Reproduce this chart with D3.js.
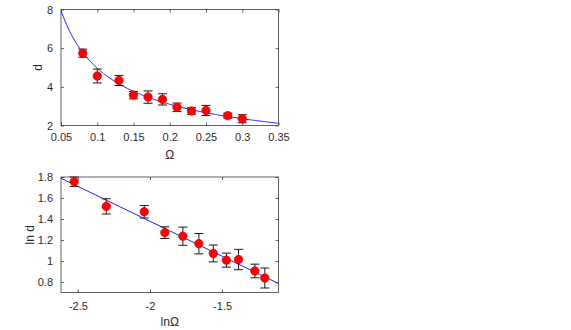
<!DOCTYPE html>
<html><head><meta charset="utf-8">
<script src="https://cdn.jsdelivr.net/npm/d3@7"></script>
<style>
html,body{margin:0;padding:0;background:#fff;}
svg{display:block;font-family:"Liberation Sans",Arial,Helvetica,sans-serif;}
</style></head>
<body>
<svg id="c" width="571" height="330"></svg>
<script>
// ---- data ----
const omega   = [0.08, 0.10, 0.13, 0.15, 0.17, 0.19, 0.21, 0.23, 0.25, 0.28, 0.30];
const dVals   = [5.74, 4.56, 4.33, 3.57, 3.47, 3.35, 2.94, 2.75, 2.78, 2.51, 2.35];
const dErr    = [0.21, 0.36, 0.26, 0.19, 0.32, 0.29, 0.22, 0.17, 0.26, 0.13, 0.21];

const lnOmega = [-2.526, -2.303, -2.040, -1.897, -1.772, -1.661, -1.561, -1.470, -1.386, -1.273, -1.204];
const lnD     = [1.755, 1.520, 1.469, 1.270, 1.236, 1.165, 1.072, 1.008, 1.014, 0.905, 0.838];
const lnDErr  = [0.045, 0.073, 0.060, 0.056, 0.087, 0.097, 0.080, 0.067, 0.097, 0.065, 0.095];

// fitted power law d = fitCoef * Omega^(-fitExp) and its log-log line
const fitCoef = 1.037, fitExp = 0.68;
const lineIntercept = 0.048, lineSlope = -0.665;

const topXTicks = [0.05, 0.1, 0.15, 0.2, 0.25, 0.3, 0.35];
const topYTicks = [2, 4, 6, 8];
const botXTicks = [-2.5, -2, -1.5];
const botYTicks = [0.8, 1, 1.2, 1.4, 1.6, 1.8];

const topXDomain = [0.05, 0.35], topYDomain = [2, 8];
const botXDomain = [-2.617, -1.109], botYDomain = [0.7, 1.8];

// ---- drawing ----
const svg = d3.select("#c");
const axisColor = "#3a3a3a", textColor = "#2b2b2b";

function panel(opt) {
  const x = d3.scaleLinear().domain(opt.xDomain).range([opt.left, opt.right]);
  const y = d3.scaleLinear().domain(opt.yDomain).range([opt.bottom, opt.top]);
  const g = svg.append("g");

  const ax = g.append("g").attr("transform", `translate(0,${opt.bottom})`)
    .call(d3.axisBottom(x).tickValues(opt.xTicks).tickFormat(d3.format("~g"))
      .tickSizeInner(-3).tickSizeOuter(0).tickPadding(opt.xPad));
  const ay = g.append("g").attr("transform", `translate(${opt.left},0)`)
    .call(d3.axisLeft(y).tickValues(opt.yTicks).tickFormat(d3.format("~g"))
      .tickSizeInner(-3).tickSizeOuter(0).tickPadding(8));
  g.append("g").attr("transform", `translate(0,${opt.top})`)
    .call(d3.axisTop(x).tickValues(opt.xTicks).tickFormat("").tickSizeInner(-3).tickSizeOuter(0));
  g.append("g").attr("transform", `translate(${opt.right},0)`)
    .call(d3.axisRight(y).tickValues(opt.yTicks).tickFormat("").tickSizeInner(-3).tickSizeOuter(0));
  g.selectAll(".domain").remove();
  g.selectAll(".tick line").attr("stroke", axisColor).attr("stroke-width", 0.8);
  g.selectAll(".tick text").attr("fill", textColor).attr("font-size", 11)
    .attr("font-family", "Liberation Sans, Arial, sans-serif");
  ax.selectAll(".tick text").text(d => d3.format("~g")(d).replace("−", "-"));
  ay.selectAll(".tick text").text(d => d3.format("~g")(d).replace("−", "-"));

  const cid = "clip" + opt.id;
  svg.append("clipPath").attr("id", cid).append("rect")
    .attr("x", opt.left).attr("y", opt.top)
    .attr("width", opt.right - opt.left).attr("height", opt.bottom - opt.top);

  g.append("path").datum(opt.fitPts)
    .attr("clip-path", `url(#${cid})`)
    .attr("fill", "none").attr("stroke", "#1f1fff").attr("stroke-width", 1)
    .attr("d", d3.line().x(d => x(d[0])).y(d => y(d[1])));

  const cap = 4.5;
  const eb = g.append("g").attr("stroke", "#1a1a1a").attr("stroke-width", 1);
  opt.xs.forEach((xv, i) => {
    const cx = x(xv), y1 = y(opt.ys[i] + opt.es[i]), y2 = y(opt.ys[i] - opt.es[i]);
    eb.append("line").attr("x1", cx).attr("x2", cx).attr("y1", y1).attr("y2", y2);
    eb.append("line").attr("x1", cx - cap).attr("x2", cx + cap).attr("y1", y1).attr("y2", y1);
    eb.append("line").attr("x1", cx - cap).attr("x2", cx + cap).attr("y1", y2).attr("y2", y2);
  });

  g.append("g").selectAll("circle").data(opt.xs).join("circle")
    .attr("cx", d => x(d)).attr("cy", (d, i) => y(opt.ys[i])).attr("r", 4.2)
    .attr("fill", "#ff0000").attr("stroke", "#e60000").attr("stroke-width", 0.8);

  g.append("rect").attr("x", opt.left).attr("y", opt.top)
    .attr("width", opt.right - opt.left).attr("height", opt.bottom - opt.top)
    .attr("fill", "none").attr("stroke", axisColor).attr("stroke-width", 0.8);

  g.append("text").attr("x", (opt.left + opt.right) / 2).attr("y", opt.xLabelY)
    .attr("text-anchor", "middle").attr("font-size", 12).attr("fill", textColor)
    .text(opt.xLabel);
  g.append("text").attr("transform", `translate(${opt.yLabelX},${(opt.top + opt.bottom) / 2}) rotate(-90)`)
    .attr("text-anchor", "middle").attr("font-size", 12).attr("fill", textColor)
    .text(opt.yLabel);
}

const topFit = d3.range(0, 201).map(k => {
  const w = topXDomain[0] + (topXDomain[1] - topXDomain[0]) * k / 200;
  return [w, fitCoef * Math.pow(w, -fitExp)];
});
const botFit = botXDomain.map(v => [v, lineIntercept + lineSlope * v]);

panel({
  id: "top", left: 61, right: 278.5, top: 9.5, bottom: 125.5,
  xDomain: topXDomain, yDomain: topYDomain, xTicks: topXTicks, yTicks: topYTicks,
  xs: omega, ys: dVals, es: dErr, fitPts: topFit, xPad: 8,
  xLabel: "Ω", xLabelY: 159, yLabel: "d", yLabelX: 42
});
panel({
  id: "bot", left: 61, right: 278.5, top: 177, bottom: 292.5,
  xDomain: botXDomain, yDomain: botYDomain, xTicks: botXTicks, yTicks: botYTicks,
  xs: lnOmega, ys: lnD, es: lnDErr, fitPts: botFit, xPad: 10,
  xLabel: "lnΩ", xLabelY: 326, yLabel: "ln d", yLabelX: 34
});
</script>
</body></html>
